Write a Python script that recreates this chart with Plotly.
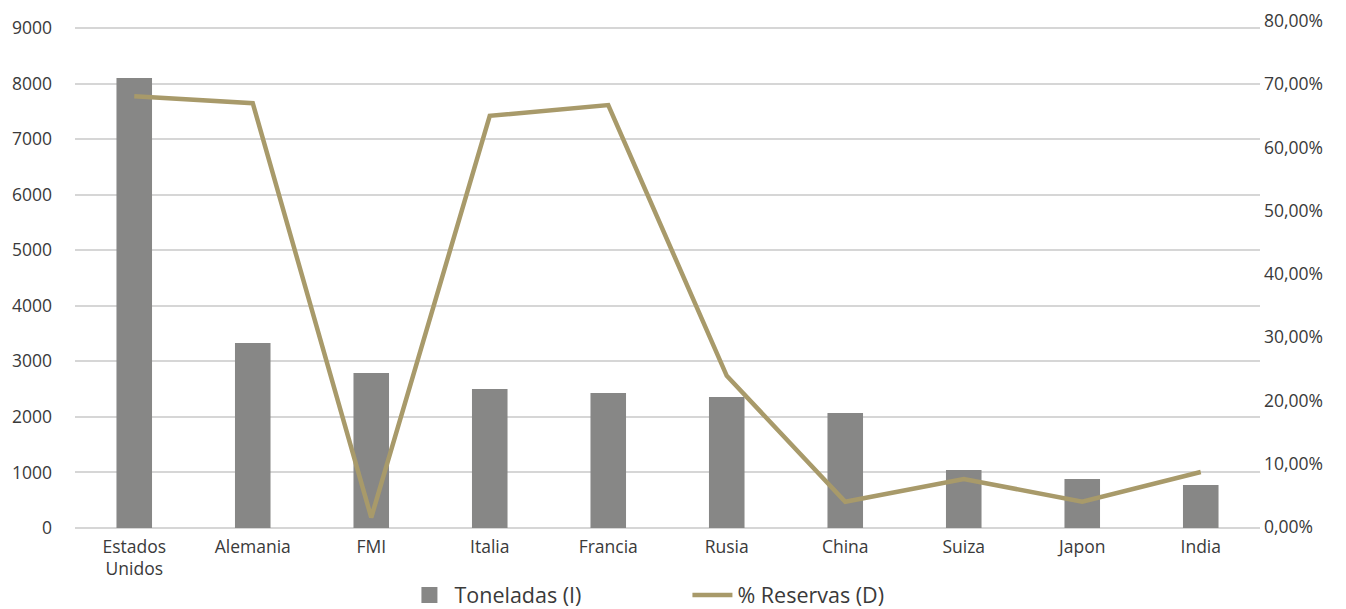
import plotly.graph_objects as go

categorias = ["Estados<br>Unidos", "Alemania", "FMI", "Italia", "Francia",
              "Rusia", "China", "Suiza", "Japon", "India"]
toneladas = [8100, 3330, 2790, 2500, 2430, 2360, 2070, 1045, 880, 775]
pct_reservas = [0.681, 0.670, 0.015, 0.650, 0.667, 0.239, 0.040, 0.076, 0.040, 0.087]

FONT = "Open Sans"
TXT = "#3a3a3a"
BAR_COLOR = "#878786"
LINE_COLOR = "#A89A6A"

fig = go.Figure()
fig.add_trace(go.Bar(x=categorias, y=toneladas, name="Toneladas (I)", showlegend=False,
                     marker=dict(color=BAR_COLOR, line=dict(width=0))))
# legend proxy with a larger square symbol
fig.add_trace(go.Scatter(x=[None], y=[None], name="Toneladas (I)", mode="markers",
                         marker=dict(symbol="square", size=20, color=BAR_COLOR)))
fig.add_trace(go.Scatter(x=categorias, y=pct_reservas, name="% Reservas (D)",
                         mode="lines", yaxis="y2",
                         line=dict(color=LINE_COLOR, width=4.5)))

fig.update_layout(
    width=1346, height=609,
    margin=dict(l=75, r=86, t=21, b=81, autoexpand=False),
    paper_bgcolor="white", plot_bgcolor="white",
    separators=",.",
    font=dict(family=FONT, size=17, color=TXT),
    bargap=0.7,
    showlegend=True,
    legend=dict(orientation="h", x=0.278, xanchor="left", y=-0.132, yanchor="middle",
                font=dict(size=21.5, color=TXT), entrywidth=228, itemwidth=40,
                itemsizing="trace"),
    xaxis=dict(showgrid=False, showline=False, ticks="", ticklabelstandoff=6,
               automargin=False, tickfont=dict(size=17.5, color=TXT)),
    yaxis=dict(range=[0, 9126], tick0=0, dtick=1000, tickformat="d",
               showgrid=True, gridcolor="#d6d6d6", gridwidth=2,
               zeroline=True, zerolinecolor="#d6d6d6", zerolinewidth=2,
               showline=False, ticks="", ticklabelstandoff=22, automargin=False,
               tickfont=dict(size=17.5, color=TXT)),
    yaxis2=dict(range=[-0.0016, 0.8], tick0=0, dtick=0.1, tickformat=".2%",
                overlaying="y", side="right", showgrid=False, zeroline=False,
                showline=False, ticks="", ticklabelstandoff=3, automargin=False,
                tickfont=dict(size=17.5, color=TXT)),
)

fig.write_html("out.html")
